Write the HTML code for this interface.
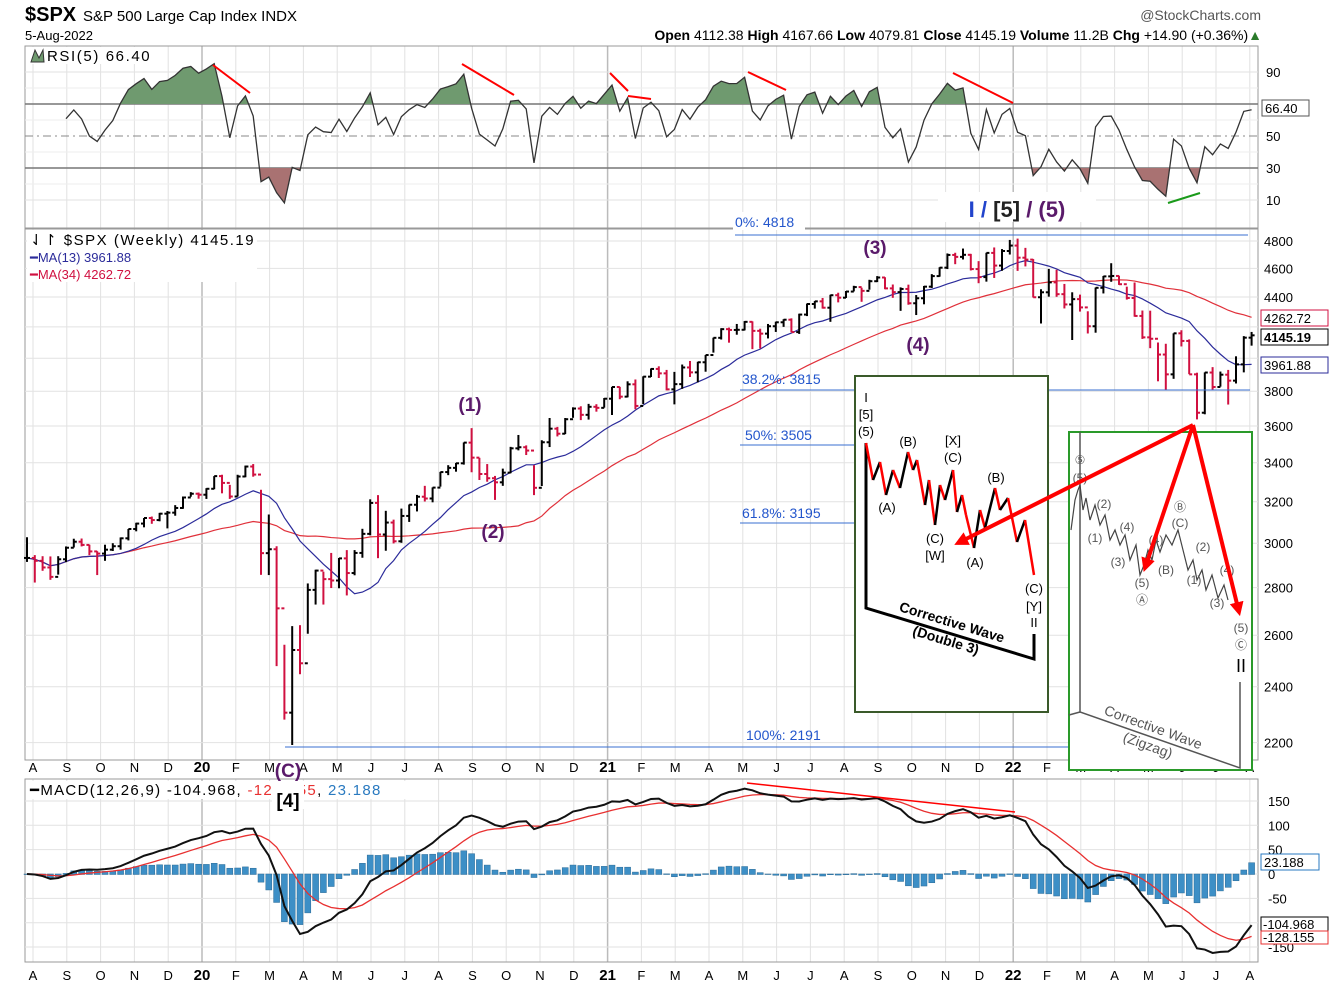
<!DOCTYPE html>
<html><head><meta charset="utf-8"><style>
html,body{margin:0;padding:0;background:#fff;}
svg{display:block;font-family:"Liberation Sans",sans-serif;}
</style></head><body>
<svg id="chart" width="1329" height="990" viewBox="0 0 1329 990" xmlns="http://www.w3.org/2000/svg">
<defs>
<clipPath id="clipUp"><rect x="25" y="46" width="1233" height="58"/></clipPath>
<clipPath id="clipDn"><rect x="25" y="168" width="1233" height="60"/></clipPath>
</defs>
<g>
<text x="25" y="21" font-size="20" font-weight="bold">$SPX</text>
<text x="83" y="21" font-size="15">S&amp;P 500 Large Cap Index  INDX</text>
<text x="25" y="40" font-size="13">5-Aug-2022</text>
<text x="1261" y="20" font-size="14" fill="#555" text-anchor="end">@StockCharts.com</text>
<text x="1262" y="40" font-size="14" text-anchor="end"><tspan font-weight="bold">Open</tspan> 4112.38 <tspan font-weight="bold">High</tspan> 4167.66 <tspan font-weight="bold">Low</tspan> 4079.81 <tspan font-weight="bold">Close</tspan> 4145.19 <tspan font-weight="bold">Volume</tspan> 11.2B <tspan font-weight="bold">Chg</tspan> +14.90 (+0.36%)<tspan fill="#2a7a2a">▲</tspan></text>
</g>
<g id="grid"></g>
<g id="rsi"></g>
<g id="price"></g>
<g id="macd"></g>
</svg>
<script>
const closes19=[2932,2919,2889,2847,2926,2979,3007,2992,2962,2952,2970,2986,3023,3067,3093,3120,3110,3141,3146,3169,3221,3240];
const closes20=[3235,3265,3330,3295,3226,3328,3380,3338,2954,2972,2711,2305,2541,2489,2790,2875,2837,2831,2930,2864,2955,3044,3194,3041,3098,3009,3130,3185,3225,3216,3271,3351,3373,3397,3508,3427,3341,3319,3298,3348,3477,3483,3465,3270,3510,3585,3557,3638,3699,3663,3709,3703,3756];
const closes21=[3825,3768,3841,3714,3887,3934,3907,3811,3842,3943,3913,3975,4020,4129,4185,4180,4181,4233,4174,4156,4204,4230,4247,4166,4281,4352,4370,4327,4412,4395,4437,4468,4442,4509,4535,4459,4433,4455,4357,4391,4471,4545,4605,4697,4683,4698,4595,4538,4712,4620,4726,4766];
const closes22=[4677,4663,4398,4432,4501,4419,4349,4385,4329,4204,4463,4543,4546,4488,4393,4272,4132,4123,4023,3901,4158,4109,3901,3675,3912,3825,3899,3863,3962,4130,4145];
const highs19=[3028,2945,2940,2939,2940,2985,3021,3022,2993,2963,2993,3000,3027,3067,3097,3120,3127,3145,3154,3183,3226,3248];
const lows19=[2914,2822,2874,2834,2857,2913,2980,2985,2945,2855,2919,2964,2970,3013,3056,3075,3092,3104,3070,3131,3165,3225];
const highs20=[3246,3268,3330,3337,3285,3337,3385,3393,3260,3137,2986,2562,2637,2641,2818,2879,2870,2955,2932,2968,2968,3068,3212,3233,3155,3112,3166,3186,3234,3280,3272,3352,3387,3399,3509,3588,3426,3393,3331,3369,3485,3550,3493,3387,3521,3645,3595,3645,3706,3712,3726,3724,3760];
const lows20=[3215,3214,3263,3242,3214,3226,3324,3327,2856,2855,2478,2280,2192,2447,2606,2727,2727,2798,2797,2766,2854,2933,3037,2931,2965,2999,3002,3101,3152,3201,3197,3276,3335,3353,3390,3350,3310,3301,3209,3280,3345,3466,3441,3233,3279,3484,3542,3555,3646,3633,3636,3681,3704];
const highs21=[3826,3826,3859,3870,3889,3937,3950,3928,3916,3961,3983,3978,4020,4130,4191,4195,4219,4238,4236,4188,4219,4234,4250,4256,4287,4355,4372,4393,4415,4429,4441,4477,4464,4519,4545,4537,4486,4466,4485,4413,4476,4559,4608,4708,4713,4744,4705,4652,4713,4752,4740,4808];
const lows21=[3662,3753,3764,3695,3725,3885,3879,3805,3723,3814,3885,3853,3917,4035,4118,4098,4149,4177,4057,4061,4125,4167,4200,4165,4154,4271,4321,4321,4233,4363,4393,4438,4367,4450,4503,4453,4394,4306,4347,4278,4350,4462,4541,4595,4630,4664,4585,4495,4506,4532,4583,4700];
const highs22=[4818,4749,4667,4453,4596,4590,4490,4432,4416,4303,4465,4546,4637,4548,4471,4500,4308,4307,4099,4091,4158,4178,4119,3911,3913,3945,3918,3928,4012,4140,4167];
const lows22=[4582,4614,4396,4222,4402,4401,4322,4115,4301,4157,4162,4424,4505,4483,4382,4267,4122,4063,3859,3810,3874,4074,3902,3637,3666,3809,3827,3722,3846,3913,4079];
const monthLabels=["A","S","O","N","D","20","F","M","A","M","J","J","A","S","O","N","D","21","F","M","A","M","J","J","A","S","O","N","D","22","F","M","A","M","J","J","A"];
const priceTicks=[4800,4600,4400,4200,4000,3800,3600,3400,3200,3000,2800,2600,2400,2200];
const rsiTicks=[90,70,50,30,10];
const macdTicks=[150,100,50,0,-50,-100,-150];

const C=[...closes19,...closes20,...closes21,...closes22];
const H=[...highs19,...highs20,...highs21,...highs22];
const L=[...lows19,...lows20,...lows21,...lows22];
const N=C.length;
const NS='http://www.w3.org/2000/svg';
const X0=27,DX=7.8;
const xW=i=>X0+i*DX;
const yP=p=>241+(Math.log(4800)-Math.log(p))*643;
const yR=v=>136-(v-50)*1.6;
const yM=v=>874-v*0.487;
function mk(tag,attrs,parent,txt){const e=document.createElementNS(NS,tag);for(const k in attrs)e.setAttribute(k,attrs[k]);if(txt!==undefined)e.textContent=txt;parent.appendChild(e);return e;}
const grid=document.getElementById('grid'),gR=document.getElementById('rsi'),gP=document.getElementById('price'),gM=document.getElementById('macd');
const panels=[[46,228],[229,760],[779,962]];
monthLabels.forEach((m,k)=>{
  const x=33+k*33.8;const yr=/\d/.test(m);
  panels.forEach(p=>{const l=mk('line',{x1:x,x2:x,y1:p[0],y2:p[1],stroke:yr?'#bbb':'#e2e2e2','stroke-width':yr?1.5:1},grid);
  
  });
  [772,980].forEach(y=>{const t=mk('text',{x:x,y:y,'font-size':yr?15:13,'font-weight':yr?'bold':'normal','text-anchor':'middle'},grid,m);
  
  });
});
panels.forEach(p=>{const r=mk('rect',{x:25,y:p[0],width:1233,height:p[1]-p[0],fill:'none',stroke:'#999'},grid);

});
[80,60,40,20].forEach(v=>{const l=mk('line',{x1:25,x2:1258,y1:yR(v),y2:yR(v),stroke:'#eee'},grid);

});
rsiTicks.forEach(v=>{const y=yR(v);
  const main=(v===70||v===30);
  const l=mk('line',{x1:25,x2:1258,y1:y,y2:y,stroke:main?'#777':(v===50?'#888':'#e2e2e2'),'stroke-width':main?1.5:1,'stroke-dasharray':v===50?'8,4,2,4':'none'},grid);
  
  
  if(v!==70){const t=mk('text',{x:1266,y:y+5,'font-size':13},grid,String(v));
  
  }
});
priceTicks.forEach(v=>{const y=yP(v);
  const l=mk('line',{x1:25,x2:1258,y1:y,y2:y,stroke:'#e2e2e2'},grid);
  
  
  if(v!==4200&&v!==4000){const t=mk('text',{x:1264,y:y+5,'font-size':13},grid,String(v));
  
  }
});
macdTicks.forEach(v=>{const y=yM(v);
  const l=mk('line',{x1:25,x2:1258,y1:y,y2:y,stroke:'#e2e2e2'},grid);
  
  
  if(v!==-100){const t=mk('text',{x:1268,y:y+5,'font-size':13},grid,String(v));
  
  }
});
const rsi=new Array(N).fill(null);
{let ag=0,al=0;for(let i=1;i<=5;i++){const d=C[i]-C[i-1];ag+=Math.max(d,0);al+=Math.max(-d,0);}ag/=5;al/=5;rsi[5]=100-100/(1+ag/(al||1e-9));
for(let i=6;i<N;i++){const d=C[i]-C[i-1];ag=(ag*4+Math.max(d,0))/5;al=(al*4+Math.max(-d,0))/5;rsi[i]=100-100/(1+ag/(al||1e-9));}}
{let pts=[];for(let i=5;i<N;i++)pts.push(xW(i)+','+yR(rsi[i]));
const base70=yR(70),base30=yR(30);
const up=mk('polygon',{points:xW(5)+','+base70+' '+pts.join(' ')+' '+xW(N-1)+','+base70,fill:'#6f9a6f',stroke:'none','clip-path':'url(#clipUp)'},gR);


const dn=mk('polygon',{points:xW(5)+','+base30+' '+pts.join(' ')+' '+xW(N-1)+','+base30,fill:'#a97272',stroke:'none','clip-path':'url(#clipDn)'},gR);


const ln=mk('polyline',{points:pts.join(' '),fill:'none',stroke:'#333','stroke-width':1.3},gR);

}
function sma(n){return C.map((_,i)=>{const s=Math.max(0,i-n+1);let t=0;for(let j=s;j<=i;j++)t+=C[j];return t/(i-s+1);});}
const ma13=sma(13),ma34=sma(34);
[[ma34,'#e0303a','ma34-line'],[ma13,'#2b2b9a','ma13-line']].forEach(([a,c,n])=>{
 const l=mk('polyline',{points:a.map((v,i)=>xW(i)+','+yP(v)).join(' '),fill:'none',stroke:c,'stroke-width':1.2},gP);
 
 });
for(let i=0;i<N;i++){const x=xW(i);const o=i?C[i-1]:C[i];const col=(i&&C[i]<C[i-1])?'#d01040':'#000';
 const g=mk('g',{stroke:col,'stroke-width':2},gP);
 
 
 mk('line',{x1:x,x2:x,y1:yP(H[i]),y2:yP(L[i])},g);
 mk('line',{x1:x-3,x2:x,y1:yP(o),y2:yP(o)},g);
 mk('line',{x1:x,x2:x+3,y1:yP(C[i]),y2:yP(C[i])},g);}
function ema(a,n){const k=2/(n+1);const r=[];a.forEach((v,i)=>r.push(i?v*k+r[i-1]*(1-k):v));return r;}
const e12=ema(C,12),e26=ema(C,26);const macd=C.map((_,i)=>e12[i]-e26[i]);const sig=ema(macd,9);
for(let i=0;i<N;i++){const h=macd[i]-sig[i];const y0=yM(0),y1=yM(h);
 const b=mk('rect',{x:xW(i)-3,y:Math.min(y0,y1),width:6,height:Math.abs(y1-y0)+0.5,fill:'#3d8fc6',stroke:'#2a6a96','stroke-width':0.5},gM);
 
 }
{const s=mk('polyline',{points:sig.map((v,i)=>xW(i)+','+yM(v)).join(' '),fill:'none',stroke:'#e83030','stroke-width':1.3},gM);


const m=mk('polyline',{points:macd.map((v,i)=>xW(i)+','+yM(v)).join(' '),fill:'none',stroke:'#111','stroke-width':2},gM);

}
</script>
<svg style="position:absolute;left:0;top:0" width="1329" height="990" viewBox="0 0 1329 990">
<defs><marker id="ah" viewBox="0 0 10 10" refX="7" refY="5" markerWidth="3.5" markerHeight="3.5" orient="auto"><path d="M0,0L10,5L0,10z" fill="#f00"/></marker></defs>
<g font-family="Liberation Sans, sans-serif">
<rect x="30" y="47" width="135" height="17" fill="#fff"/>
<text x="47" y="61" font-size="15" letter-spacing="1.6">RSI(5) 66.40</text>
<path d="M31,62 L35,50 L39,58 L43,50 L44,62z" fill="#6f9a6f" stroke="#333"/>
<rect x="27" y="230" width="230" height="52" fill="#fff"/>
<text x="30" y="245" font-size="15" letter-spacing="1.5">⇃↾ $SPX (Weekly) 4145.19</text>
<text x="30" y="262" font-size="13" fill="#2b2b9a">━MA(13) 3961.88</text>
<text x="30" y="279" font-size="13" fill="#d01040">━MA(34) 4262.72</text>
<rect x="27" y="781" width="410" height="18" fill="#fff"/>
<text x="30" y="795" font-size="15" letter-spacing="1.3">━MACD(12,26,9) -104.968, <tspan fill="#e83030">-128.155</tspan>, <tspan fill="#2a7ac0">23.188</tspan></text>
<rect x="1262" y="100" width="47" height="16" fill="#fff" stroke="#555"/><text x="1265" y="113" font-size="13">66.40</text>
<rect x="1261" y="310" width="67" height="16" fill="#fff" stroke="#d01040"/><text x="1264" y="323" font-size="13">4262.72</text>
<rect x="1261" y="329" width="67" height="16" fill="#fff" stroke="#000"/><text x="1264" y="342" font-size="13" font-weight="bold">4145.19</text>
<rect x="1261" y="357" width="67" height="16" fill="#fff" stroke="#2b2b9a"/><text x="1264" y="370" font-size="13">3961.88</text>
<rect x="1261" y="854" width="58" height="16" fill="#fff" stroke="#2a7ac0"/><text x="1264" y="867" font-size="13">23.188</text>
<rect x="1261" y="917" width="67" height="14" fill="#fff" stroke="#000"/><text x="1263" y="929" font-size="13">-104.968</text>
<rect x="1261" y="931" width="67" height="13" fill="#fff" stroke="#e83030"/><text x="1263" y="942" font-size="13">-128.155</text>
<g stroke="#f00" stroke-width="2">
<line x1="213" y1="65" x2="250" y2="93"/><line x1="462" y1="64" x2="514" y2="95"/><line x1="610" y1="73" x2="628" y2="91"/><line x1="628" y1="96" x2="651" y2="99"/><line x1="748" y1="72" x2="786" y2="90"/><line x1="953" y1="73" x2="1013" y2="103"/>
</g>
<line x1="1168" y1="203" x2="1200" y2="193" stroke="#1a9a1a" stroke-width="2"/>
<line x1="747" y1="783" x2="1015" y2="812" stroke="#f00" stroke-width="1.5"/>
<g stroke="#3a6fd0" stroke-width="1">
<line x1="735" y1="235" x2="1248" y2="235"/><line x1="740" y1="390" x2="1250" y2="390"/><line x1="740" y1="445" x2="855" y2="445"/><line x1="740" y1="523" x2="855" y2="523"/><line x1="285" y1="747" x2="1068" y2="747"/>
</g>
<g font-size="14" fill="#2255cc">
<rect x="733" y="212" width="72" height="18" fill="#fff"/>
<text x="735" y="227">0%: 4818</text>
<text x="742" y="384">38.2%: 3815</text>
<text x="745" y="440">50%: 3505</text>
<text x="742" y="518">61.8%: 3195</text>
<text x="746" y="740">100%: 2191</text>
</g>
<g font-size="19" font-weight="bold" fill="#5a1a6a" text-anchor="middle">
<text x="470" y="411">(1)</text>
<text x="493" y="538">(2)</text>
<text x="875" y="254">(3)</text>
<text x="918" y="351">(4)</text>
<text x="288" y="777">(C)</text>
</g>
<rect x="272" y="781" width="32" height="28" fill="#fff"/>
<text x="288" y="807" font-size="19" font-weight="bold" text-anchor="middle">[4]</text>
<rect x="938" y="192" width="158" height="30" fill="#fff"/>
<text x="1017" y="217" font-size="22" font-weight="bold" text-anchor="middle"><tspan fill="#2244cc">I</tspan> <tspan fill="#2244cc">/</tspan> <tspan fill="#222">[5]</tspan> <tspan fill="#5a1a6a">/ (5)</tspan></text>
<g>
<rect x="855" y="376" width="193" height="336" fill="#fff" stroke="#3a5a2a" stroke-width="2"/>
<polyline points="866,443 866,608 1034,659 1034,634" fill="none" stroke="#000" stroke-width="3"/>
<g stroke-width="2.5" fill="none" id="dz"></g>
<g font-size="13" text-anchor="middle">
<text x="866" y="402">I</text><text x="866" y="419">[5]</text><text x="866" y="436">(5)</text>
<text x="908" y="446">(B)</text><text x="953" y="445">[X]</text><text x="953" y="462">(C)</text>
<text x="887" y="512">(A)</text><text x="935" y="543">(C)</text><text x="935" y="560">[W]</text>
<text x="975" y="567">(A)</text><text x="996" y="482">(B)</text>
<text x="1034" y="593">(C)</text><text x="1034" y="611">[Y]</text><text x="1034" y="627">II</text>
</g>
<text x="952" y="627" font-size="14" font-weight="bold" text-anchor="middle" transform="rotate(17 952 622)">Corrective Wave</text>
<text x="946" y="645" font-size="14" font-weight="bold" text-anchor="middle" transform="rotate(17 946 640)">(Double 3)</text>
</g>
<g>
<rect x="1069" y="432" width="183" height="338" fill="#fff" stroke="#2a9a2a" stroke-width="2"/>
<polyline points="1080,432 1080,712 1240,768 1240,682" fill="none" stroke="#555" stroke-width="1.5"/>
<line x1="1069" y1="715" x2="1080" y2="712" stroke="#555" stroke-width="1.5"/>
<polyline points="1071,530 1075,500 1078,490 1080,485 1083,510 1086,498 1090,520 1095,505 1100,525 1105,515 1110,540 1115,530 1120,545 1125,535 1130,560 1136,545 1140,575 1144,565 1148,550 1152,560 1156,540 1160,552 1166,535 1172,545 1178,530 1183,550 1188,570 1193,560 1197,580 1202,570 1206,590 1212,575 1218,598 1224,585 1228,600" fill="none" stroke="#444" stroke-width="1.2"/>
<g font-size="12" fill="#555" text-anchor="middle">
<text x="1080" y="464">⑤</text><text x="1080" y="482">(5)</text>
<text x="1104" y="508">(2)</text><text x="1095" y="542">(1)</text><text x="1127" y="531">(4)</text><text x="1118" y="566">(3)</text>
<text x="1142" y="587">(5)</text><text x="1142" y="604">Ⓐ</text><text x="1156" y="544">(4)</text><text x="1166" y="574">(B)</text>
<text x="1180" y="511">Ⓑ</text><text x="1180" y="527">(C)</text><text x="1203" y="551">(2)</text><text x="1194" y="584">(1)</text>
<text x="1227" y="574">(4)</text><text x="1217" y="607">(3)</text><text x="1241" y="632">(5)</text><text x="1241" y="649">Ⓒ</text>
</g>
<text x="1241" y="672" font-size="18" text-anchor="middle">II</text>
<text x="1153" y="732" font-size="14" fill="#555" text-anchor="middle" transform="rotate(20 1153 728)">Corrective Wave</text>
<text x="1148" y="750" font-size="14" fill="#555" text-anchor="middle" transform="rotate(20 1148 745)">(Zigzag)</text>
</g>
<g stroke="#f00" stroke-width="4" marker-end="url(#ah)">
<line x1="1193" y1="425" x2="958" y2="543"/><line x1="1193" y1="425" x2="1145" y2="568"/><line x1="1193" y1="425" x2="1239" y2="612"/>
</g>
</g>
</svg>
<script>
const dzPts=[[866,443],[873,480],[880,462],[886,495],[893,470],[900,488],[908,452],[913,470],[917,460],[925,505],[929,480],[935,525],[940,485],[945,500],[953,470],[957,512],[962,495],[966,515],[974,548],[980,510],[985,528],[995,488],[1000,510],[1008,498],[1017,542],[1025,520],[1034,575]];
const dz=document.getElementById('dz');
for(let i=1;i<dzPts.length;i++){const a=dzPts[i-1],b=dzPts[i];
 const l=document.createElementNS('http://www.w3.org/2000/svg','line');
 l.setAttribute('x1',a[0]);l.setAttribute('y1',a[1]);l.setAttribute('x2',b[0]);l.setAttribute('y2',b[1]);
 l.setAttribute('stroke',b[1]<a[1]?'#000':'#f00');
 
 
 dz.appendChild(l);}
</script>
</body></html>
